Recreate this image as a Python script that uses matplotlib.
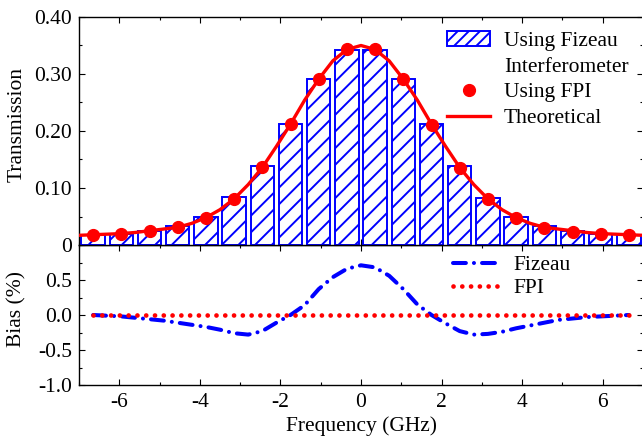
import numpy as np
import matplotlib.pyplot as plt
from matplotlib.ticker import MultipleLocator, FixedLocator, FuncFormatter
from matplotlib.patches import Patch
from matplotlib.lines import Line2D

plt.rcParams['font.family'] = ['Liberation Serif', 'DejaVu Serif']
plt.rcParams['axes.unicode_minus'] = False
plt.rcParams['hatch.linewidth'] = 1.4
FS = 15.5

# Sampled frequencies (GHz)
freq = [-6.65, -5.95, -5.25, -4.55, -3.85, -3.15, -2.45, -1.75, -1.05, -0.35,
        0.35, 1.05, 1.75, 2.45, 3.15, 3.85, 4.55, 5.25, 5.95, 6.65]
# Transmission measured with the Fizeau interferometer
fizeau = [0.018, 0.020, 0.025, 0.033, 0.050, 0.084, 0.138, 0.212, 0.291, 0.342,
          0.342, 0.291, 0.212, 0.138, 0.082, 0.049, 0.033, 0.025, 0.020, 0.018]
# Transmission measured with the FPI
fpi = [0.018, 0.020, 0.025, 0.031, 0.048, 0.081, 0.136, 0.212, 0.291, 0.343,
       0.343, 0.291, 0.211, 0.135, 0.081, 0.048, 0.030, 0.023, 0.020, 0.018]

# Theoretical transmission curve
theo_freq = [-7.0, -6.65, -6.3, -5.95, -5.6, -5.25, -4.9, -4.55, -4.2, -3.85,
             -3.5, -3.15, -2.8, -2.45, -2.1, -1.75, -1.4, -1.05, -0.7, -0.35,
             0.0, 0.35, 0.7, 1.05, 1.4, 1.75, 2.1, 2.45, 2.8, 3.15,
             3.5, 3.85, 4.2, 4.55, 4.9, 5.25, 5.6, 5.95, 6.3, 6.65, 7.0]
theo = [0.017, 0.018, 0.019, 0.020, 0.022, 0.025, 0.028, 0.031, 0.038, 0.048,
        0.062, 0.081, 0.106, 0.136, 0.173, 0.212, 0.254, 0.291, 0.323, 0.343,
        0.350, 0.343, 0.323, 0.291, 0.254, 0.212, 0.173, 0.136, 0.106, 0.081,
        0.062, 0.048, 0.038, 0.031, 0.028, 0.025, 0.022, 0.020, 0.019, 0.018, 0.017]

# Bias relative to theory (%)
bias_freq = theo_freq[1:-1]
bias_fizeau = [0.00, -0.01, -0.02, -0.04, -0.06, -0.08, -0.11, -0.14, -0.17, -0.21,
               -0.26, -0.28, -0.23, -0.11, 0.00, 0.14, 0.37, 0.54, 0.66, 0.71,
               0.68, 0.56, 0.37, 0.15, 0.00, -0.12, -0.23, -0.28, -0.27, -0.24,
               -0.19, -0.15, -0.11, -0.07, -0.05, -0.03, -0.02, -0.01, 0.00]
bias_fpi = [0.0] * len(bias_freq)

BLUE = '#0000ff'
RED = '#ff0000'

fig = plt.figure(figsize=(6.42, 4.44), dpi=100)
L, W = 79 / 642, 564 / 642
ax2 = fig.add_axes([L, 1 - 385 / 444, W, 140 / 444])
ax1 = fig.add_axes([L, 1 - 245 / 444, W, 228 / 444])

# --- top: transmission ---
ax1.bar(freq, fizeau, width=0.58, color='white', edgecolor=BLUE, linewidth=1.4,
        hatch='//', zorder=2)
ax1.plot(theo_freq, theo, color=RED, lw=2.4, zorder=3)
ax1.plot(freq, fpi, 'o', color=RED, ms=8.5, zorder=4)
ax1.set_xlim(-7, 7)
ax1.set_ylim(0, 0.40)
ax1.yaxis.set_major_locator(FixedLocator([0, 0.1, 0.2, 0.3, 0.4]))
ax1.yaxis.set_minor_locator(MultipleLocator(0.05))
ax1.yaxis.set_major_formatter(FuncFormatter(lambda v, p: '0' if abs(v) < 1e-9 else f'{v:.2f}'))
ax1.xaxis.set_major_locator(MultipleLocator(2))
ax1.xaxis.set_minor_locator(MultipleLocator(1))
ax1.tick_params(axis='x', labelbottom=False)
ax1.set_ylabel('Transmission', fontsize=FS)
ax1.yaxis.set_label_coords(-0.093, 0.528)

h_bar = Patch(facecolor='white', edgecolor=BLUE, hatch='///', linewidth=1.4)
h_blank = Line2D([], [], color='none')
h_dot = Line2D([], [], marker='o', color=RED, ls='none', ms=8.5)
h_line = Line2D([], [], color=RED, lw=2.4)
ax1.legend([h_bar, h_blank, h_dot, h_line],
           ['Using Fizeau', 'Interferometer', 'Using FPI', 'Theoretical'],
           loc='upper left', bbox_to_anchor=(447 / 642, 1 - 31 / 444),
           bbox_transform=fig.transFigure, frameon=False, fontsize=FS,
           borderpad=0, borderaxespad=0, handlelength=2.0, handletextpad=0.65,
           labelspacing=0.26, numpoints=1)

# --- bottom: bias ---
ax2.plot(bias_freq, bias_fizeau, color=BLUE, lw=2.9, dash_capstyle='round',
         ls=(0, (3.2, 2.0, 0.01, 2.0)), label='Fizeau')
ax2.plot(bias_freq, bias_fpi, color=RED, lw=3.4, dash_capstyle='round',
         ls=(0, (0.01, 1.85)), label='FPI')
ax2.set_xlim(-7, 7)
ax2.set_ylim(-1, 1)
ax2.yaxis.set_major_locator(FixedLocator([-1.0, -0.5, 0.0, 0.5]))
ax2.yaxis.set_minor_locator(MultipleLocator(0.25))
ax2.yaxis.set_major_formatter(FuncFormatter(lambda v, p: f'{v:.1f}'))
ax2.xaxis.set_major_locator(MultipleLocator(2))
ax2.xaxis.set_minor_locator(MultipleLocator(1))
ax2.set_xlabel('Frequency (GHz)', fontsize=FS, labelpad=3)
ax2.set_ylabel('Bias (%)', fontsize=FS)
ax2.yaxis.set_label_coords(-0.093, 0.546)
ax2.legend(loc='upper left', bbox_to_anchor=(453 / 642, 1 - 255 / 444),
           bbox_transform=fig.transFigure, frameon=False, fontsize=FS,
           borderpad=0, borderaxespad=0, handlelength=2.05, handletextpad=0.75,
           labelspacing=0.14)

for ax in (ax1, ax2):
    for s in ax.spines.values():
        s.set_linewidth(1.0)
    ax.tick_params(which='both', direction='in', top=True, right=True,
                   labelsize=FS, width=0.8)
    ax.tick_params(which='major', length=4)
    ax.tick_params(which='minor', length=2.5)
    ax.tick_params(axis='y', pad=5)
    ax.tick_params(axis='x', pad=6)

fig.savefig('out.png', dpi=100)
